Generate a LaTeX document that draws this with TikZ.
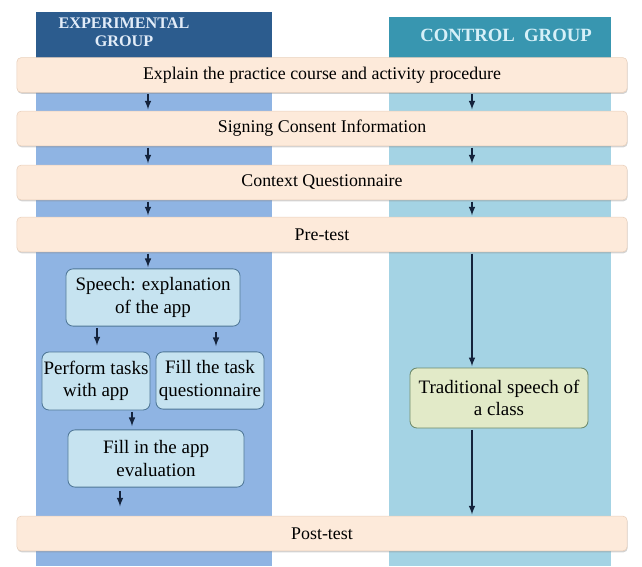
\documentclass[tikz,border=0pt]{standalone}
\usepackage{fontspec}
\setmainfont{Liberation Serif}
\usepackage{tikz}
\usetikzlibrary{arrows,shadows}

\definecolor{expdark}{RGB}{44,92,142}
\definecolor{explight}{RGB}{143,180,227}
\definecolor{ctrldark}{RGB}{56,150,176}
\definecolor{ctrllight}{RGB}{164,211,228}
\definecolor{bandfill}{RGB}{253,234,218}
\definecolor{bandline}{RGB}{232,208,188}
\definecolor{boxfill}{RGB}{198,227,240}
\definecolor{boxline}{RGB}{78,118,150}
\definecolor{tradfill}{RGB}{226,234,200}
\definecolor{tradline}{RGB}{108,138,108}
\definecolor{arrowcol}{RGB}{20,35,60}

\tikzset{
  band/.style={draw=bandline, fill=bandfill, rounded corners=3pt,
    minimum width=15.25cm, minimum height=0.87cm, inner sep=0pt,
    drop shadow={shadow xshift=0.4pt, shadow yshift=-1pt, opacity=0.35},
    font=\fontsize{12.7}{14}\selectfont},
  header/.style={inner sep=0pt, align=center, font=\bfseries},
  stepbox/.style={draw=boxline, fill=boxfill, rounded corners=5pt, line width=0.6pt,
    inner sep=0pt, align=center, font=\fontsize{13.5}{16}\selectfont},
  arr/.style={-latex, draw=arrowcol, line width=1.1pt, shorten >=1pt, shorten <=1pt}
}

\begin{document}
\begin{tikzpicture}[x=0.025cm, y=-0.025cm]
    \useasboundingbox (0,0) rectangle (642,566);
    % columns
    \fill[explight] (36,58) rectangle (272,566);
    \fill[ctrllight] (389,58) rectangle (611,566);
    \fill[expdark] (36,12) rectangle (272,58);
    \fill[ctrldark] (389,17) rectangle (611,58);
    \coordinate (ex) at (148,0);
    \coordinate (cx) at (472,0);
    % headers
    \node[header, text={rgb,255:red,226;green,236;blue,248},
      font=\fontsize{11.5}{13}\selectfont\bfseries] (exphead) at (124,32) {EXPERIMENTAL\\GROUP};
    \node[header, text={rgb,255:red,214;green,240;blue,248},
      font=\fontsize{13.3}{14}\selectfont\bfseries] (ctrlhead) at (506,35) {CONTROL\ \ GROUP};
    % common steps
    \node[band] (explain) at (322,75) {Explain the practice course and activity procedure};
    \node[band] (consent) at (322,128.5) {Signing Consent Information};
    \node[band] (context) at (322,182.5) {Context Questionnaire};
    \node[band] (pretest) at (322,234.5) {Pre-test};
    \node[band] (posttest) at (322,533.5) {Post-test};
    % experimental group
    \node[stepbox, minimum width=4.35cm, minimum height=1.43cm] (speech) at (153,297.5) {Speech: explanation\\of the app};
    \node[stepbox, minimum width=2.7cm, minimum height=1.45cm] (perform) at (96,381) {Perform tasks\\with app};
    \node[stepbox, minimum width=2.7cm, minimum height=1.43cm] (filltask) at (210,380.5) {Fill the task\\questionnaire};
    \node[stepbox, minimum width=4.4cm, minimum height=1.43cm] (fillin) at (156,458.5) {Fill in the app\\evaluation};
    % control group
    \node[stepbox, draw=tradline, fill=tradfill, minimum width=4.45cm, minimum height=1.5cm] (trad) at (499,398) {Traditional speech of\\a class};
    % arrows
    \foreach \a/\b in {explain/consent, consent/context, context/pretest} {
      \draw[arr] (\a.south -| ex) -- (\b.north -| ex);
      \draw[arr] (\a.south -| cx) -- (\b.north -| cx);
    }
    \draw[arr] (pretest.south -| ex) -- (speech.north -| ex);
    \draw[arr] (speech.south -| 97,0) -- ([yshift=0.12cm]perform.north -| 97,0);
    \draw[arr] ([yshift=-0.1cm]speech.south -| 216,0) -- ([yshift=0.1cm]filltask.north -| 216,0);
    \draw[arr] (perform.south -| 132,0) -- ([yshift=0.05cm]fillin.north -| 132,0);
    \draw[arr] ([yshift=-0.05cm]fillin.south -| 120,0) -- ([yshift=0.2cm]posttest.north -| 120,0);
    \draw[arr] (pretest.south -| cx) -- (trad.north -| cx);
    \draw[arr] (trad.south -| cx) -- (posttest.north -| cx);
\end{tikzpicture}
\end{document}
